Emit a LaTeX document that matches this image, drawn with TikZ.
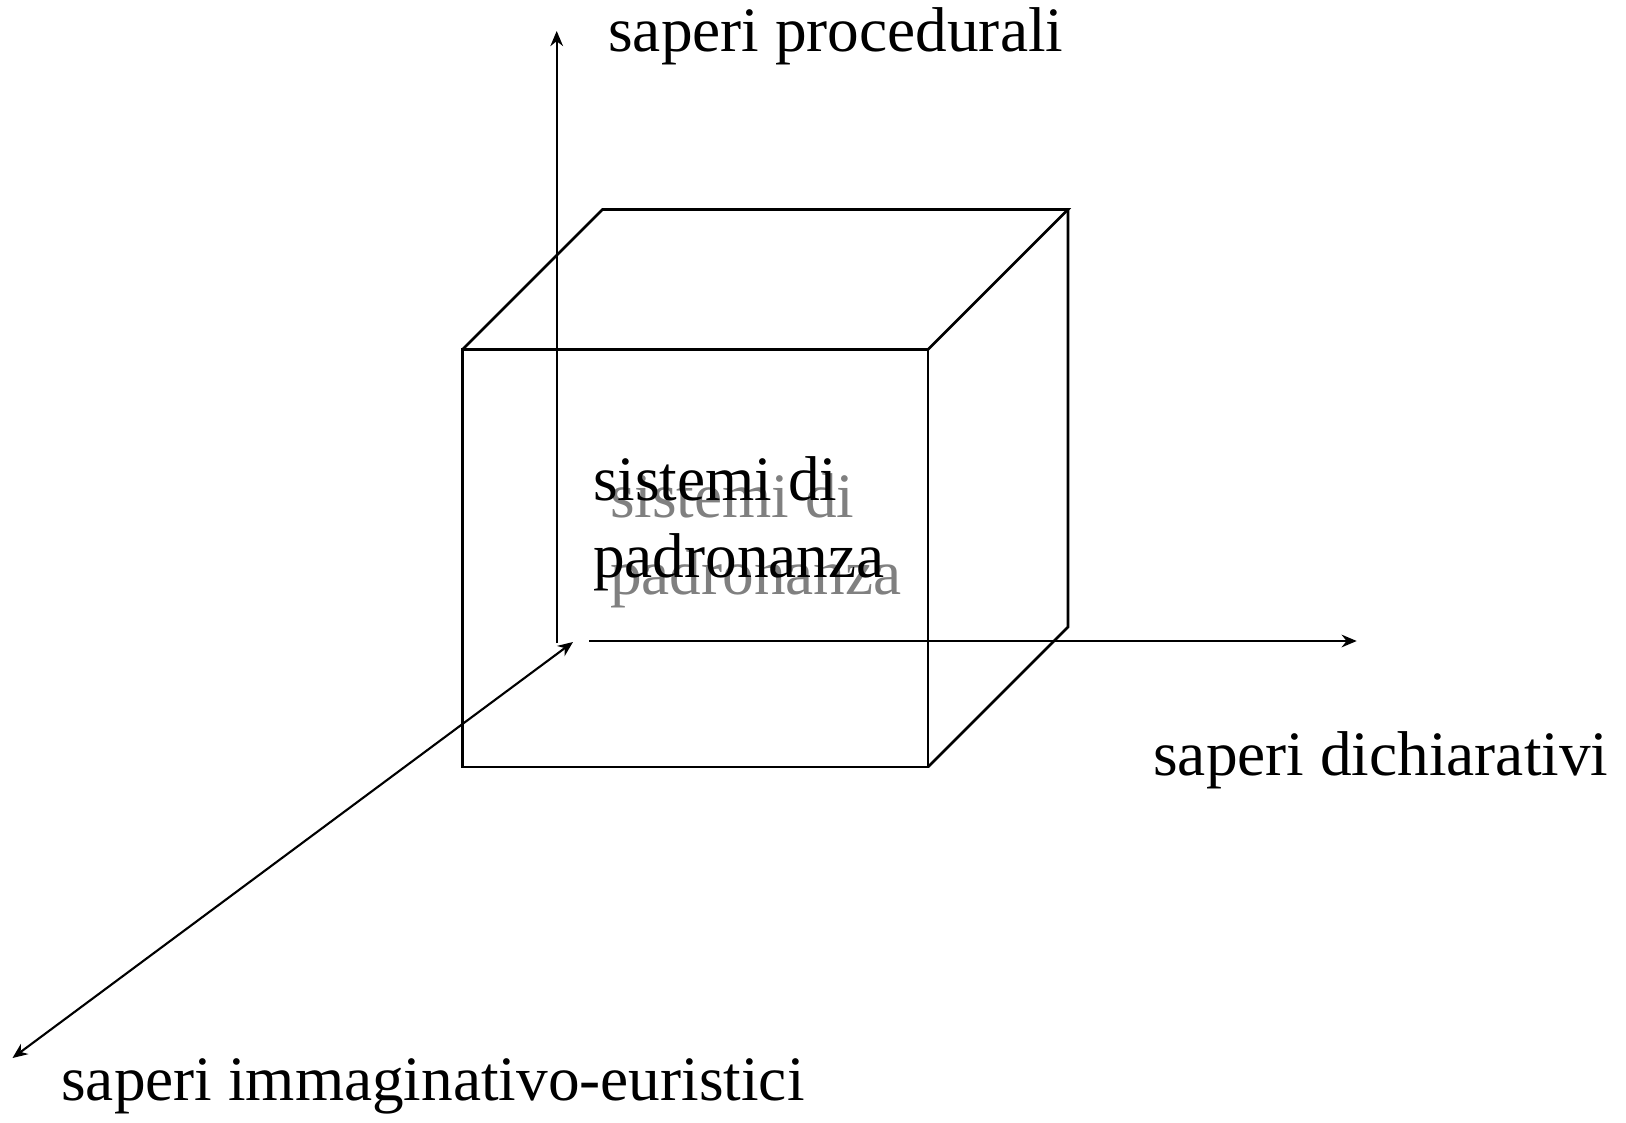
\documentclass[tikz,border=0pt]{standalone}
\usepackage{fontspec}
\setmainfont{Liberation Serif}
\usetikzlibrary{arrows.meta}

\begin{document}
\begin{tikzpicture}[line width=0.75pt,
    axis/.style={-{Stealth[length=4.3pt,width=3.6pt]}},
    axisboth/.style={{Stealth[length=4.3pt,width=3.6pt]}-{Stealth[length=4.3pt,width=3.6pt]}},
    label/.style={font=\fontsize{18}{21.9}\selectfont, inner sep=0pt}]
              \useasboundingbox (0,0) rectangle (16.26,11.22);
              % front face
              \coordinate (FA) at (4.625,3.55);
              \coordinate (FB) at (9.28,3.55);
              \coordinate (FC) at (9.28,7.725);
              \coordinate (FD) at (4.625,7.725);
              % back face
              \coordinate (BB) at (10.68,4.95);
              \coordinate (BC) at (10.68,9.125);
              \coordinate (BD) at (6.025,9.125);
              \draw (FA)--(FB)--(FC)--(FD)--cycle;
              \draw (FD)--(BD)--(BC)--(FC);
              \draw (BC)--(BB)--(FB);
              % axes
              \coordinate (O) at (5.567,4.79);
              \coordinate (OY) at (5.567,10.91);
              \coordinate (OX) at (5.89,4.81);
              \coordinate (XE) at (13.567,4.81);
              \coordinate (OZ) at (5.73,4.80);
              \coordinate (ZE) at (0.125,0.64);
              \draw[axis,line width=0.6pt] (O)--(OY);
              \draw[axis,line width=0.6pt] (OX)--(XE);
              \draw[axisboth,line width=0.6pt] (OZ)--(ZE);
              % labels
              \node[label,anchor=base west] (proc) at (6.07,10.70) {saperi procedurali};
              \node[label,anchor=base west] (dich) at (11.52,3.47) {saperi dichiarativi};
              \node[label,anchor=base west] (imm) at (0.60,0.22) {saperi immaginativo-euristici};
              \node[label,anchor=base west,align=left,text=black!50] (shadow) at (6.087,5.28) {sistemi di\\padronanza};
              \node[label,anchor=base west,align=left] (sist) at (5.917,5.45) {sistemi di\\padronanza};
\end{tikzpicture}
\end{document}
